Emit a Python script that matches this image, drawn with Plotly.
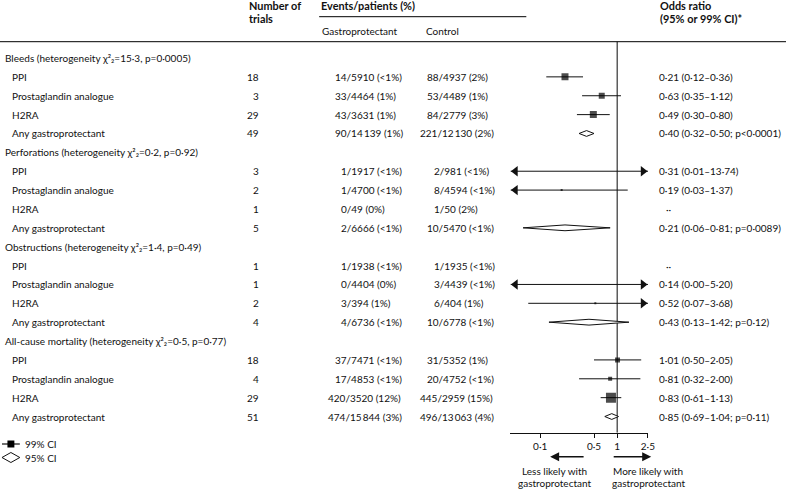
import math
import plotly.graph_objects as go

# ------------------------------------------------------------------ data
row_labels = [
    "Bleeds (heterogeneity χ²₂=15·3, p=0·0005)",
    "PPI", "Prostaglandin analogue", "H2RA", "Any gastroprotectant",
    "Perforations (heterogeneity χ²₂=0·2, p=0·92)",
    "PPI", "Prostaglandin analogue", "H2RA", "Any gastroprotectant",
    "Obstructions (heterogeneity χ²₂=1·4, p=0·49)",
    "PPI", "Prostaglandin analogue", "H2RA", "Any gastroprotectant",
    "All-cause mortality (heterogeneity χ²₂=0·5, p=0·77)",
    "PPI", "Prostaglandin analogue", "H2RA", "Any gastroprotectant",
]
header_rows = [0, 5, 10, 15]
pooled_rows = [4, 9, 14, 19]

trials = ["", "18", "3", "29", "49", "", "3", "2", "1", "5",
          "", "1", "1", "2", "4", "", "18", "4", "29", "51"]

gastro_events = [
    "", "14/5910 (<1%)", "33/4464 (1%)", "43/3631 (1%)", "90/14\u2009139 (1%)",
    "", "1/1917 (<1%)", "1/4700 (<1%)", "0/49 (0%)", "2/6666 (<1%)",
    "", "1/1938 (<1%)", "0/4404 (0%)", "3/394 (1%)", "4/6736 (<1%)",
    "", "37/7471 (<1%)", "17/4853 (<1%)", "420/3520 (12%)", "474/15\u2009844 (3%)",
]
control_events = [
    "", "88/4937 (2%)", "53/4489 (1%)", "84/2779 (3%)", "221/12\u2009130 (2%)",
    "", "2/981 (<1%)", "8/4594 (<1%)", "1/50 (2%)", "10/5470 (<1%)",
    "", "1/1935 (<1%)", "3/4439 (<1%)", "6/404 (1%)", "10/6778 (<1%)",
    "", "31/5352 (1%)", "20/4752 (<1%)", "445/2959 (15%)", "496/13\u2009063 (4%)",
]
or_labels = [
    "", "0·21 (0·12–0·36)", "0·63 (0·35–1·12)", "0·49 (0·30–0·80)", "0·40 (0·32–0·50; p<0·0001)",
    "", "0·31 (0·01–13·74)", "0·19 (0·03–1·37)", "··", "0·21 (0·06–0·81; p=0·0089)",
    "", "··", "0·14 (0·00–5·20)", "0·52 (0·07–3·68)", "0·43 (0·13–1·42; p=0·12)",
    "", "1·01 (0·50–2·05)", "0·81 (0·32–2·00)", "0·83 (0·61–1·13)", "0·85 (0·69–1·04; p=0·11)",
]
or_est = [None, 0.21, 0.63, 0.49, 0.40, None, 0.31, 0.19, None, 0.21,
          None, None, 0.14, 0.52, 0.43, None, 1.01, 0.81, 0.83, 0.85]
ci_low = [None, 0.12, 0.35, 0.30, 0.32, None, 0.01, 0.03, None, 0.06,
          None, None, 0.00, 0.07, 0.13, None, 0.50, 0.32, 0.61, 0.69]
ci_high = [None, 0.36, 1.12, 0.80, 0.50, None, 13.74, 1.37, None, 0.81,
           None, None, 5.20, 3.68, 1.42, None, 2.05, 2.00, 1.13, 1.04]

x_ticks = [0.1, 0.5, 1, 2.5]
x_tick_labels = ["0·1", "0·5", "1", "2·5"]

# ------------------------------------------------------------------ style
W, H = 793, 493
FONT = "Lato"
FS = 10
HB = 10.9
INK = "#111111"
square_px = [0, 7, 6, 7, 0, 0, 0, 2, 0, 0, 0, 0, 0, 2, 0, 0, 5, 4, 10, 0]

ROW0, ROWH = 58.0, 18.87           # pixel centre of row 0, row pitch
AXIS_Y = 432.7                      # pixel y of the x axis line
LOG_MIN, LOG_MAX = -1.386, 0.40     # log10 range of the OR axis
PX_PER_DEC = 77.7
AX_X0 = 515.0
AX_X1 = AX_X0 + (LOG_MAX - LOG_MIN) * PX_PER_DEC

def px(x):
    return x / W

def py(y):
    return 1 - y / H

def row_of_px(y):
    return (y - ROW0) / ROWH

XMIN, XMAX = 10 ** LOG_MIN, 10 ** LOG_MAX

# ------------------------------------------------------------------ traces
fig = go.Figure()

# reference line at OR = 1
fig.add_trace(go.Scatter(x=[1, 1], y=[row_of_px(41.7), row_of_px(AXIS_Y)], mode="lines",
                         line=dict(color="#333333", width=1.2), hoverinfo="skip",
                         showlegend=False))

# CI lines + arrow heads
lx, ly = [], []
left_ax, left_ay, right_ax, right_ay = [], [], [], []
head_off = 5.0 / PX_PER_DEC
for k in range(len(row_labels)):
    if or_est[k] is None or k in pooled_rows:
        continue
    lo, hi = ci_low[k], ci_high[k]
    lo_c = max(lo, XMIN)
    hi_c = min(hi, XMAX)
    lx += [lo_c, hi_c, None]
    ly += [k, k, None]
    if lo < XMIN:
        left_ax.append(10 ** (LOG_MIN + head_off)); left_ay.append(k)
    if hi > XMAX:
        right_ax.append(10 ** (LOG_MAX - head_off)); right_ay.append(k)

fig.add_trace(go.Scatter(x=lx, y=ly, mode="lines", line=dict(color=INK, width=1),
                         hoverinfo="skip", showlegend=False))
fig.add_trace(go.Scatter(x=left_ax, y=left_ay, mode="markers", cliponaxis=False,
                         marker=dict(symbol="triangle-left", size=9, color=INK, line=dict(width=0)),
                         hoverinfo="skip", showlegend=False))
fig.add_trace(go.Scatter(x=right_ax, y=right_ay, mode="markers", cliponaxis=False,
                         marker=dict(symbol="triangle-right", size=9, color=INK, line=dict(width=0)),
                         hoverinfo="skip", showlegend=False))

# squares (99% CI estimates)
sx, sy, ss = [], [], []
for k in range(len(row_labels)):
    if or_est[k] is None or k in pooled_rows or square_px[k] <= 0:
        continue
    sx.append(or_est[k]); sy.append(k); ss.append(square_px[k])
fig.add_trace(go.Scatter(x=sx, y=sy, mode="markers",
                         marker=dict(symbol="square", size=ss, color="black", line=dict(width=0)),
                         hoverinfo="skip", showlegend=False))

# diamonds (95% CI pooled)
dx, dy = [], []
hh = 2.9 / ROWH
for k in pooled_rows:
    lo, est, hi = ci_low[k], or_est[k], ci_high[k]
    dx += [lo, est, hi, est, lo, None]
    dy += [k, k - hh, k, k + hh, k, None]
fig.add_trace(go.Scatter(x=dx, y=dy, mode="lines", fill="toself", fillcolor="white",
                         line=dict(color=INK, width=1), hoverinfo="skip", showlegend=False))

# ------------------------------------------------------------------ text
ann = []

def txt(x, y, s, anchor="left", yref="y", size=FS, bold=False, xref="paper"):
    ann.append(dict(x=x, y=y, xref=xref, yref=yref, text=(f"<b>{s}</b>" if bold else s),
                    showarrow=False, xanchor=anchor, yanchor="middle",
                    font=dict(family=FONT, size=size, color=INK)))

STEP = 6.6
G_SLASH = 349.0
C_SLASH = 442.0
for k, lab in enumerate(row_labels):
    if k in header_rows:
        txt(px(3), k, lab)
    else:
        txt(px(10), k, lab)
    if trials[k]:
        txt(px(263), k, trials[k], anchor="right")
    if gastro_events[k]:
        n = len(gastro_events[k].split("/")[0])
        txt(px(G_SLASH - n * STEP), k, gastro_events[k])
    if control_events[k]:
        n = len(control_events[k].split("/")[0])
        txt(px(C_SLASH - n * STEP), k, control_events[k])
    if or_labels[k]:
        xo = 670 if or_labels[k] == "··" else 663
        txt(px(xo), k, or_labels[k])

# column headers
txt(px(249), py(5.5), "Number of", yref="paper", size=HB, bold=True)
txt(px(249), py(19), "trials", yref="paper", size=HB, bold=True)
txt(px(322), py(5.5), "Events/patients (%)", yref="paper", size=HB, bold=True)
txt(px(323), py(31), "Gastroprotectant", yref="paper")
txt(px(428), py(31), "Control", yref="paper")
txt(px(664), py(5.5), "Odds ratio", yref="paper", size=HB, bold=True)
txt(px(664), py(19), "(95% or 99% CI)*", yref="paper", size=HB, bold=True)

# direction labels under the axis
txt(px(559), py(471), "Less likely with", anchor="center", yref="paper")
txt(px(559), py(483), "gastroprotectant", anchor="center", yref="paper")
txt(px(654), py(471), "More likely with", anchor="center", yref="paper")
txt(px(654), py(483), "gastroprotectant", anchor="center", yref="paper")

# direction arrows
for tip, tail in [(555, 590), (657, 618)]:
    ann.append(dict(x=px(tip), y=py(456.7), xref="paper", yref="paper", text="",
                    showarrow=True, ax=tail - tip, ay=0, axref="pixel", ayref="pixel",
                    arrowhead=2, arrowsize=1.2, arrowwidth=1.5, arrowcolor=INK,
                    standoff=0, startstandoff=0))

# legend text
txt(px(23), py(444), "99% CI", yref="paper")
txt(px(23), py(457.5), "95% CI", yref="paper")

# ------------------------------------------------------------------ shapes
shapes = [
    dict(type="line", xref="paper", yref="paper", x0=0, x1=1, y0=py(41.7), y1=py(41.7),
         line=dict(color="black", width=1)),
    dict(type="line", xref="paper", yref="paper", x0=px(322), x1=px(531), y0=py(16.7), y1=py(16.7),
         line=dict(color="black", width=1)),
    # legend icons
    dict(type="line", xref="paper", yref="paper", x0=px(2), x1=px(20), y0=py(444), y1=py(444),
         line=dict(color=INK, width=1.2)),
    dict(type="rect", xref="paper", yref="paper", x0=px(7.5), x1=px(14.5), y0=py(447.5), y1=py(440.5),
         fillcolor="black", line=dict(width=0)),
    dict(type="path", xref="paper", yref="paper",
         path=(f"M {px(2)},{py(457.5)} L {px(11)},{py(452.5)} L {px(20)},{py(457.5)} "
               f"L {px(11)},{py(462.5)} Z"),
         fillcolor="white", line=dict(color=INK, width=1)),
]

# ------------------------------------------------------------------ layout
fig.update_layout(
    width=W, height=H,
    margin=dict(l=0, r=0, t=0, b=0),
    paper_bgcolor="white", plot_bgcolor="rgba(0,0,0,0)",
    showlegend=False,
    xaxis=dict(type="log", range=[LOG_MIN, LOG_MAX], domain=[px(AX_X0), px(AX_X1)],
               showgrid=False, zeroline=False, showline=True, linecolor=INK, linewidth=1,
               ticks="outside", ticklen=4, tickcolor=INK, tickwidth=1,
               tickvals=x_ticks, ticktext=x_tick_labels,
               tickfont=dict(family=FONT, size=FS, color=INK)),
    yaxis=dict(range=[row_of_px(AXIS_Y), row_of_px(0)], domain=[py(AXIS_Y), 1],
               visible=False, showgrid=False, zeroline=False),
    annotations=ann,
    shapes=shapes,
)

fig.write_html("out.html", config={"displayModeBar": False},
               post_script="document.body.style.margin='0';document.body.style.overflow='hidden';")
